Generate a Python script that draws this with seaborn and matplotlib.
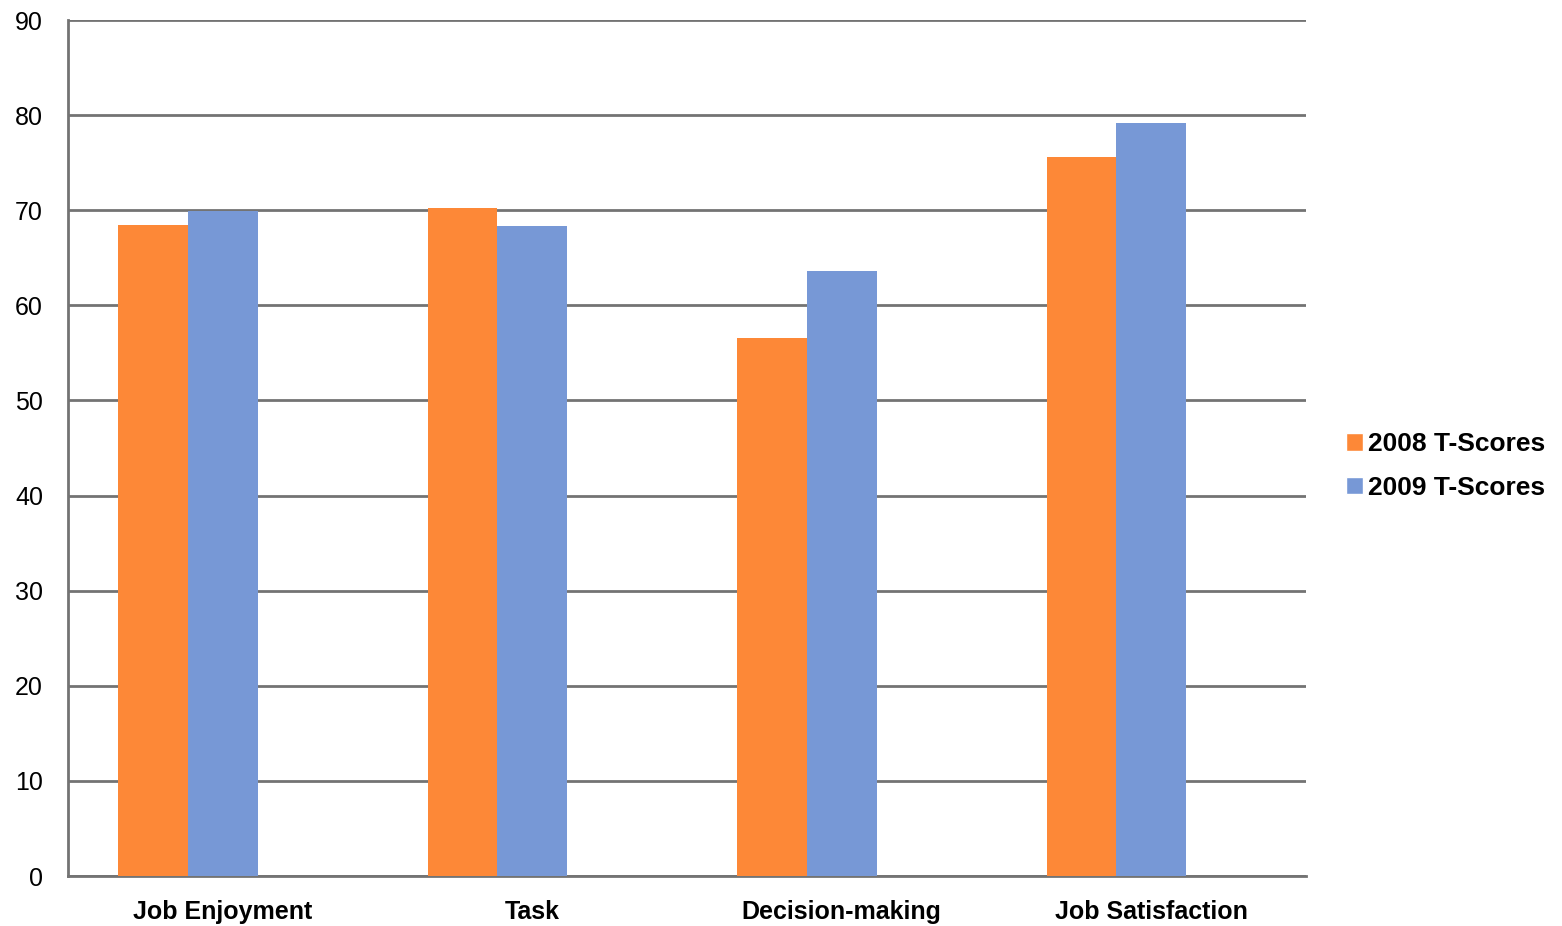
import matplotlib
matplotlib.use("Agg")
import matplotlib.pyplot as plt
import seaborn as sns
import pandas as pd
from matplotlib.patches import Patch

categories = ["Job Enjoyment", "Task", "Decision-making", "Job Satisfaction"]
series_names = ["2008 T-Scores", "2009 T-Scores"]
scores_2008 = [68.4, 70.2, 56.6, 75.6]
scores_2009 = [69.9, 68.3, 63.6, 79.2]
# empty third series slot (the original chart reserves space for it)
placeholder = [0, 0, 0, 0]
y_ticks = [0, 10, 20, 30, 40, 50, 60, 70, 80, 90]

colors = ["#FD8837", "#7798D6", "#FFFFFF"]
grid_color = "#737373"

sns.set_theme(style="white")
plt.rcParams["font.family"] = ["Liberation Sans", "DejaVu Sans"]
plt.rcParams["text.color"] = "black"
plt.rcParams["xtick.labelcolor"] = "black"
plt.rcParams["ytick.labelcolor"] = "black"

rows = []
for c, a, b, p in zip(categories, scores_2008, scores_2009, placeholder):
    rows.append({"cat": c, "series": series_names[0], "value": a})
    rows.append({"cat": c, "series": series_names[1], "value": b})
    rows.append({"cat": c, "series": "_blank", "value": p})
df = pd.DataFrame(rows)

fig = plt.figure(figsize=(15.62, 9.26), dpi=100)
ax = fig.add_axes([68 / 1562, 50 / 926, (1306 - 68) / 1562, (876 - 20) / 926])

sns.barplot(data=df, x="cat", y="value", hue="series",
            hue_order=series_names + ["_blank"], order=categories,
            palette=colors, saturation=1, width=0.674, gap=0, linewidth=0,
            errorbar=None, legend=False, ax=ax, zorder=3)

ax.set_ylim(0, 90)
ax.set_xlim(-0.5, len(categories) - 0.5)
ax.set_yticks(y_ticks)
ax.set_yticklabels([str(t) for t in y_ticks], fontsize=18, color="black")
ax.yaxis.grid(True, color=grid_color, linewidth=2.0, zorder=0)
ax.set_axisbelow(True)
ax.set_xlabel("")
ax.set_ylabel("")

ax.set_xticks(range(len(categories)))
ax.set_xticklabels(categories, fontsize=18, fontweight="bold", color="black")
ax.tick_params(axis="x", length=0, pad=17)
ax.set_xticks([i - 0.5 for i in range(len(categories) + 1)], minor=True)
ax.tick_params(axis="x", which="minor", length=8, width=1.5, color=grid_color, direction="out")
ax.tick_params(axis="y", length=7, width=1.5, color=grid_color, direction="out", pad=11)

for s in ["top", "right"]:
    ax.spines[s].set_visible(False)
for s in ["left", "bottom"]:
    ax.spines[s].set_color(grid_color)
    ax.spines[s].set_linewidth(2.0)

handles = [Patch(facecolor=colors[0]), Patch(facecolor=colors[1])]
fig.legend(handles, series_names, loc="center left",
           bbox_to_anchor=(1346 / 1562, 1 - 466 / 926), frameon=False,
           prop={"size": 19, "weight": "bold"}, handlelength=0.65, handleheight=0.65,
           handletextpad=0.2, labelspacing=0.75, borderaxespad=0, borderpad=0,
           labelcolor="black")

fig.savefig("out.png", dpi=100)
